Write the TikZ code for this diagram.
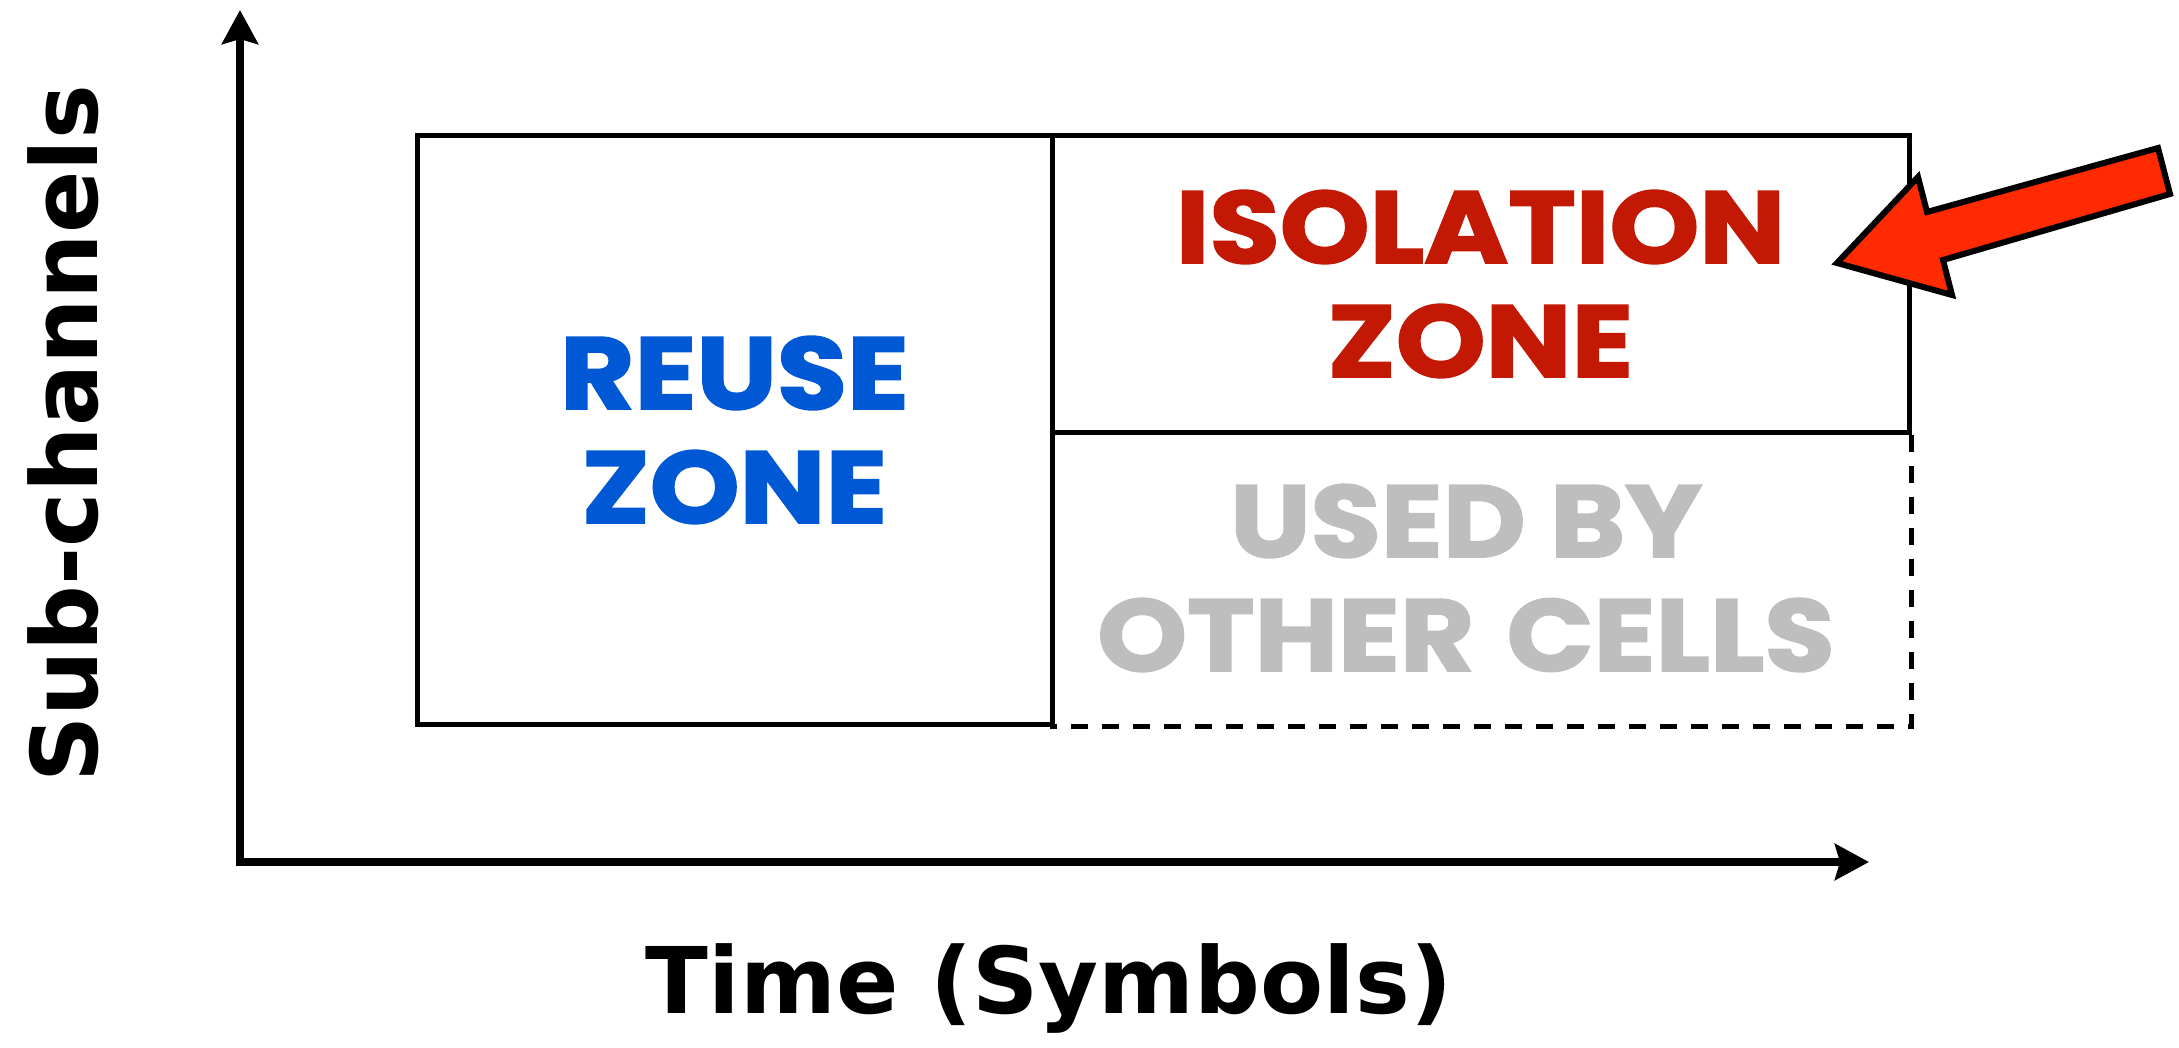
\documentclass[tikz,border=0pt]{standalone}
\usepackage{fontspec}
\setmainfont{DejaVu Sans}
\newfontfamily\zonefont{Poppins}[FakeBold=2, FakeStretch=1.12]
\usetikzlibrary{arrows.meta}
\definecolor{reuseblue}{RGB}{0,88,212}
\definecolor{isored}{RGB}{194,24,4}
\definecolor{othergray}{RGB}{190,190,190}
\definecolor{arrowred}{RGB}{255,42,0}
\begin{document}
\begin{tikzpicture}[x=0.5pt,y=-0.5pt,
  axis/.style={line width=4pt, line join=miter,
    {Stealth[length=17pt,width=18pt,inset=2.5pt]}-{Stealth[length=17pt,width=18pt,inset=2.5pt]}},
  zonebox/.style={draw=black, line width=2.5pt, inner sep=0pt, align=center,
    font=\fontsize{51}{57}\selectfont\zonefont\bfseries},
  zoneedge/.style={line width=2.5pt, dash pattern=on 8.5pt off 7pt},
  axislabel/.style={font=\fontsize{46}{55}\selectfont\bfseries, inner sep=0pt},
  pointer/.style={fill=arrowred, draw=black, line width=3pt, line join=miter}]
\useasboundingbox (0,0) rectangle (2179,1048);

% axes
\coordinate (origin) at (240,862);
\coordinate (ytip) at (240,10);
\coordinate (xtip) at (1869,862);
\draw[axis] (ytip) -- (origin) -- (xtip);

% zones
\node[zonebox, text=reuseblue, minimum width=317.5pt, minimum height=294pt]
  (reuse) at (734.5,430) {REUSE\\ZONE};
\node[zonebox, text=isored, minimum width=428.5pt, minimum height=148pt]
  (isolation) at (1480.5,284) {ISOLATION\\ZONE};
\node[zonebox, draw=none, text=othergray, minimum height=146pt]
  (other) at (1466,578) {USED BY\\OTHER\hspace{4pt} CELLS};
\draw[zoneedge] (isolation.south east) -- (isolation.south east |- other.south)
  -- (isolation.west |- other.south);

% pointer arrow
\draw[pointer] (1837,263) -- (1918,177) -- (1927,212) -- (2158,148)
  -- (2170,194) -- (1943,260) -- (1952,295) -- cycle;

% axis labels
\node[axislabel, rotate=90] (ylabel) at (63,434) {Sub-channels};
\node[axislabel] (xlabel) at (1049,988) {Time (Symbols)};
\end{tikzpicture}
\end{document}
